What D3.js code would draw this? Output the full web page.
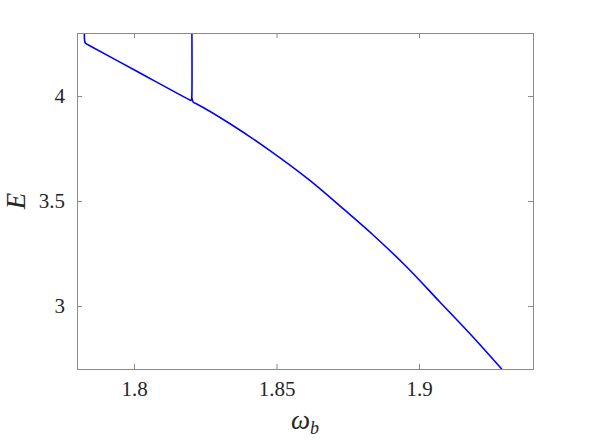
<!DOCTYPE html>
<html>
<head>
<meta charset="utf-8">
<script src="https://cdn.jsdelivr.net/npm/d3@7"></script>
<style>
  body { margin: 0; background: #fff; }
  svg { display: block; }
</style>
</head>
<body>
<div id="chart"></div>
<script>
// Energy E against frequency omega_b: two branches that meet near omega_b = 1.82.

const xTicks = [1.8, 1.85, 1.9];
const yTicks = [3, 3.5, 4];
const xDomain = [1.78, 1.94];
const yDomain = [2.7, 4.3];

// upper-left branch: drops from the top, runs down to ~1.82, then turns back up
const branchOmega = [1.7826, 1.7826, 1.7827, 1.7830, 1.7840, 1.8000, 1.8196, 1.8200, 1.8202, 1.8203, 1.8203];
const branchE     = [4.35, 4.28, 4.262, 4.251, 4.243, 4.125, 3.981, 3.979, 3.983, 4.0, 4.35];

// lower branch: leaves the junction and falls off to the bottom right
const mainOmega = [1.8204, 1.8206, 1.8210, 1.8220, 1.8337, 1.8477, 1.8618, 1.8746, 1.8840, 1.8957, 1.9074, 1.9191, 1.9290, 1.9310];
const mainE     = [3.990, 3.975, 3.968, 3.962, 3.868, 3.740, 3.597, 3.449, 3.337, 3.186, 3.018, 2.850, 2.700, 2.669];

const width = 589;
const height = 442;
const margin = { top: 33, right: 56, bottom: 73, left: 77 };
const innerWidth = width - margin.left - margin.right;
const innerHeight = height - margin.top - margin.bottom;

const serif = "'Liberation Serif', 'DejaVu Serif', serif";
const textColor = "#262626";
const axisColor = "#8a8a8a";

const svg = d3.select("#chart")
  .append("svg")
  .attr("width", width)
  .attr("height", height);

const chart = svg.append("g")
  .attr("transform", `translate(${margin.left}, ${margin.top})`);

const x = d3.scaleLinear().domain(xDomain).range([0, innerWidth]);
const y = d3.scaleLinear().domain(yDomain).range([innerHeight, 0]);

// clip the curves to the plot box like MATLAB does
svg.append("defs").append("clipPath")
  .attr("id", "plot-clip")
  .append("rect")
  .attr("width", innerWidth)
  .attr("height", innerHeight);

const line = d3.line()
  .x(d => x(d[0]))
  .y(d => y(d[1]))
  .curve(d3.curveCatmullRom.alpha(0.5));

const curves = [
  d3.zip(branchOmega, branchE),
  d3.zip(mainOmega, mainE)
];

chart.append("g")
  .attr("clip-path", "url(#plot-clip)")
  .selectAll("path")
  .data(curves)
  .join("path")
  .attr("d", line)
  .attr("fill", "none")
  .attr("stroke", "#0000ff")
  .attr("stroke-width", 1.6)
  .attr("stroke-linejoin", "round");

// axes with inward ticks on all four sides
const styleAxis = g => {
  g.attr("font-family", serif).attr("font-size", 21);
  g.select(".domain").remove();
  g.selectAll(".tick line").attr("stroke", axisColor);
  g.selectAll(".tick text").attr("fill", textColor);
};

// top and right copies only carry tick marks
const marksOnly = g => {
  g.select(".domain").remove();
  g.selectAll(".tick text").remove();
  g.selectAll(".tick line").attr("stroke", axisColor);
};

chart.append("g")
  .attr("transform", `translate(0, ${innerHeight})`)
  .call(d3.axisBottom(x).tickValues(xTicks).tickFormat(d3.format("")).tickSizeInner(-5).tickSizeOuter(0).tickPadding(12))
  .call(styleAxis);

chart.append("g")
  .call(d3.axisTop(x).tickValues(xTicks).tickSizeInner(-5).tickSizeOuter(0))
  .call(marksOnly);

chart.append("g")
  .call(d3.axisLeft(y).tickValues(yTicks).tickFormat(d3.format("")).tickSizeInner(-5).tickSizeOuter(0).tickPadding(12))
  .call(styleAxis);

chart.append("g")
  .attr("transform", `translate(${innerWidth}, 0)`)
  .call(d3.axisRight(y).tickValues(yTicks).tickSizeInner(-5).tickSizeOuter(0))
  .call(marksOnly);

chart.append("rect")
  .attr("width", innerWidth)
  .attr("height", innerHeight)
  .attr("fill", "none")
  .attr("stroke", axisColor)
  .attr("stroke-width", 1)
  .attr("shape-rendering", "crispEdges");

// axis labels
const xLabel = svg.append("text")
  .attr("x", margin.left + innerWidth / 2)
  .attr("y", 429)
  .attr("text-anchor", "middle")
  .attr("font-family", serif)
  .attr("font-style", "italic")
  .attr("font-size", 27)
  .attr("fill", textColor);
xLabel.append("tspan").text("ω");
xLabel.append("tspan").attr("dy", 5).attr("font-size", 18).text("b");

svg.append("text")
  .attr("transform", `translate(25, ${margin.top + innerHeight / 2}) rotate(-90)`)
  .attr("text-anchor", "middle")
  .attr("font-family", serif)
  .attr("font-style", "italic")
  .attr("font-size", 27)
  .attr("fill", textColor)
  .text("E");
</script>
</body>
</html>
